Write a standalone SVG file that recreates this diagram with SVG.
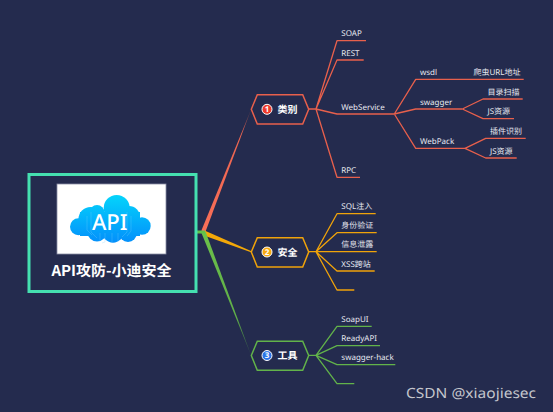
<svg xmlns="http://www.w3.org/2000/svg" width="553" height="412" viewBox="0 0 553 412">
<style>
.l{fill:none;stroke-width:1.3;stroke-linejoin:round}
.r{stroke:#e8604c}.o{stroke:#f0a30a}.g{stroke:#62b34a}
text{font-family:"Noto Sans","Noto Sans CJK SC",sans-serif;text-rendering:geometricPrecision}
.t{font-size:8px;fill:#e6e8f0}
.h{font-family:"Noto Sans CJK SC","Noto Sans",sans-serif;font-size:10px;font-weight:700;fill:#fff}
.n{font-size:8px;font-weight:700;fill:#fff;text-anchor:middle}
.hex{fill:#242b4e;stroke-width:1.5}
.ring{stroke:#fff;stroke-width:1}
.c{fill:none;stroke:#7fd4ff;stroke-width:.5;opacity:.55}
</style>
<defs>
<linearGradient id="cl" gradientUnits="userSpaceOnUse" x1="0" y1="195" x2="0" y2="243"><stop offset="0" stop-color="#04d4fb"/><stop offset="1" stop-color="#038ffb"/></linearGradient>
<linearGradient id="gr" gradientUnits="userSpaceOnUse" x1="203" y1="232" x2="251" y2="109"><stop offset="0" stop-color="#f96f58"/><stop offset=".8" stop-color="#ee6550"/><stop offset="1" stop-color="#5a3a4a"/></linearGradient>
<linearGradient id="gg" gradientUnits="userSpaceOnUse" x1="203" y1="232" x2="251" y2="355"><stop offset="0" stop-color="#6cc24a"/><stop offset=".7" stop-color="#5fae48"/><stop offset="1" stop-color="#2f4f4a"/></linearGradient>
</defs>
<rect width="553" height="412" fill="#242b4e"/>
<g id="connectors">
<path d="M201.400 230.500 L205 233 L251.300 109 Z" fill="url(#gr)"/>
<path d="M204.500 230.500 L202.500 235 L251 252.300 L251 251.100 Z" fill="#f3a808"/>
<path d="M201.500 233 L205.500 231.500 L251 355 Z" fill="url(#gg)"/>
<path d="M197 232 H205" fill="none" stroke="#62c04a" stroke-width="3"/>
<path class="l r" d="M308.700 109H316M316 109L337 40.700H366M316 109L337 60H363.700M316 109L337 114H394.300M316 109L337 177.300H360"/>
<path class="l r" d="M394.300 114L415.700 79.300H523.700M394.300 114L415.700 109H462.300M394.300 114L415.700 148.300H465"/>
<path class="l r" d="M462.300 109L483 99H522.700M462.300 109L483 118.700H514M465 148.300L485.700 138.300H525.700M465 148.300L485.700 158H516.700"/>
<path class="l o" d="M308.700 251.700H316M316 251.700L337 213.700H375.700M316 251.700L337 232.700H376.700M316 251.700H376.700M316 251.700L337 271H374.700M316 251.700L337 290H354.300"/>
<path class="l g" d="M308.700 355.300H316M316 355.300L337 326.300H371.700M316 355.300L337 345.700H380M316 355.300L337 364.700H395.300M316 355.300L337 383.700H354.300"/>
</g>
<g id="root">
<rect x="29" y="174.500" width="167" height="117" fill="#242b4e" stroke="#45e0b0" stroke-width="3"/>
<rect x="57" y="184" width="109" height="70" fill="#fff" stroke="#8a8ea6" stroke-width=".8"/>
<g fill="url(#cl)">
<circle cx="78.500" cy="226.700" r="8.500"/><circle cx="142" cy="226" r="8.700"/>
<circle cx="90.500" cy="219" r="12"/><circle cx="97" cy="212.500" r="7.500"/>
<circle cx="116.700" cy="208" r="13"/><circle cx="129" cy="217" r="11"/>
<circle cx="97" cy="232" r="9.500"/><circle cx="113" cy="232" r="10.700"/><circle cx="128" cy="233" r="9"/>
<rect x="80" y="212" width="60" height="24"/>
</g>
<path class="c" d="M87 216v14l5 5M91 212v20l6 6M127 212v20l-5 5M131 216v15l-4 5M100 233v8M105 233v9l-3 1M112 233v9M118 233v9"/>
<text x="109.700" y="229.500" text-anchor="middle" font-size="22" font-weight="500" fill="#fff">API</text>
<text x="111.500" y="276" text-anchor="middle" style="font-family:'Noto Sans CJK SC','Noto Sans',sans-serif;font-size:15px;font-weight:700;fill:#fff">API攻防-小迪安全</text>
</g>
<g id="node-1">
<path class="hex r" d="M251.300 109.300L257.300 94.700H302.700L308.700 109.300L302.700 124H257.300Z"/>
<circle class="ring" cx="267" cy="109.300" r="5" fill="#ef3b2d"/><text class="n" x="267" y="112.200">1</text>
<text class="h" x="277.500" y="113">类别</text>
</g>
<g id="node-2">
<path class="hex o" d="M251.300 252L257.300 237.700H302.700L308.700 252L302.700 267H257.300Z"/>
<circle class="ring" cx="267" cy="252" r="5" fill="#f7a90e"/><text class="n" x="267" y="254.900">2</text>
<text class="h" x="277.500" y="255.700">安全</text>
</g>
<g id="node-3">
<path class="hex g" d="M251.300 355.500L257.300 341.300H302.700L308.700 355.500L302.700 370.300H257.300Z"/>
<circle class="ring" cx="267" cy="355.500" r="5" fill="#2b74e8"/><text class="n" x="267" y="358.400">3</text>
<text class="h" x="277.500" y="359.200">工具</text>
</g>
<g id="labels">
<text class="t" x="341.300" y="36">SOAP</text>
<text class="t" x="341.300" y="55.500">REST</text>
<text class="t" x="341.300" y="109.500">WebService</text>
<text class="t" x="341.300" y="172.500">RPC</text>
<text class="t" x="420" y="75">wsdl</text>
<text class="t" x="420" y="104.500">swagger</text>
<text class="t" x="420" y="143.500">WebPack</text>
<text class="t" x="473.500" y="75">爬虫URL地址</text>
<text class="t" x="487.500" y="94.500">目录扫描</text>
<text class="t" x="487.500" y="114">JS资源</text>
<text class="t" x="490" y="134">插件识别</text>
<text class="t" x="490" y="153.500">JS资源</text>
<text class="t" x="341.300" y="209">SQL注入</text>
<text class="t" x="341.300" y="228">身份验证</text>
<text class="t" x="341.300" y="247">信息泄露</text>
<text class="t" x="341.300" y="266.500">XSS跨站</text>
<text class="t" x="341.300" y="321.500">SoapUI</text>
<text class="t" x="341.300" y="341">ReadyAPI</text>
<text class="t" x="341.300" y="360">swagger-hack</text>
</g>
<text x="406" y="397.500" style="font-family:'Noto Sans',sans-serif;font-size:14px;fill:#c3c5cc" textLength="130" lengthAdjust="spacingAndGlyphs">CSDN @xiaojiesec</text>
</svg>
